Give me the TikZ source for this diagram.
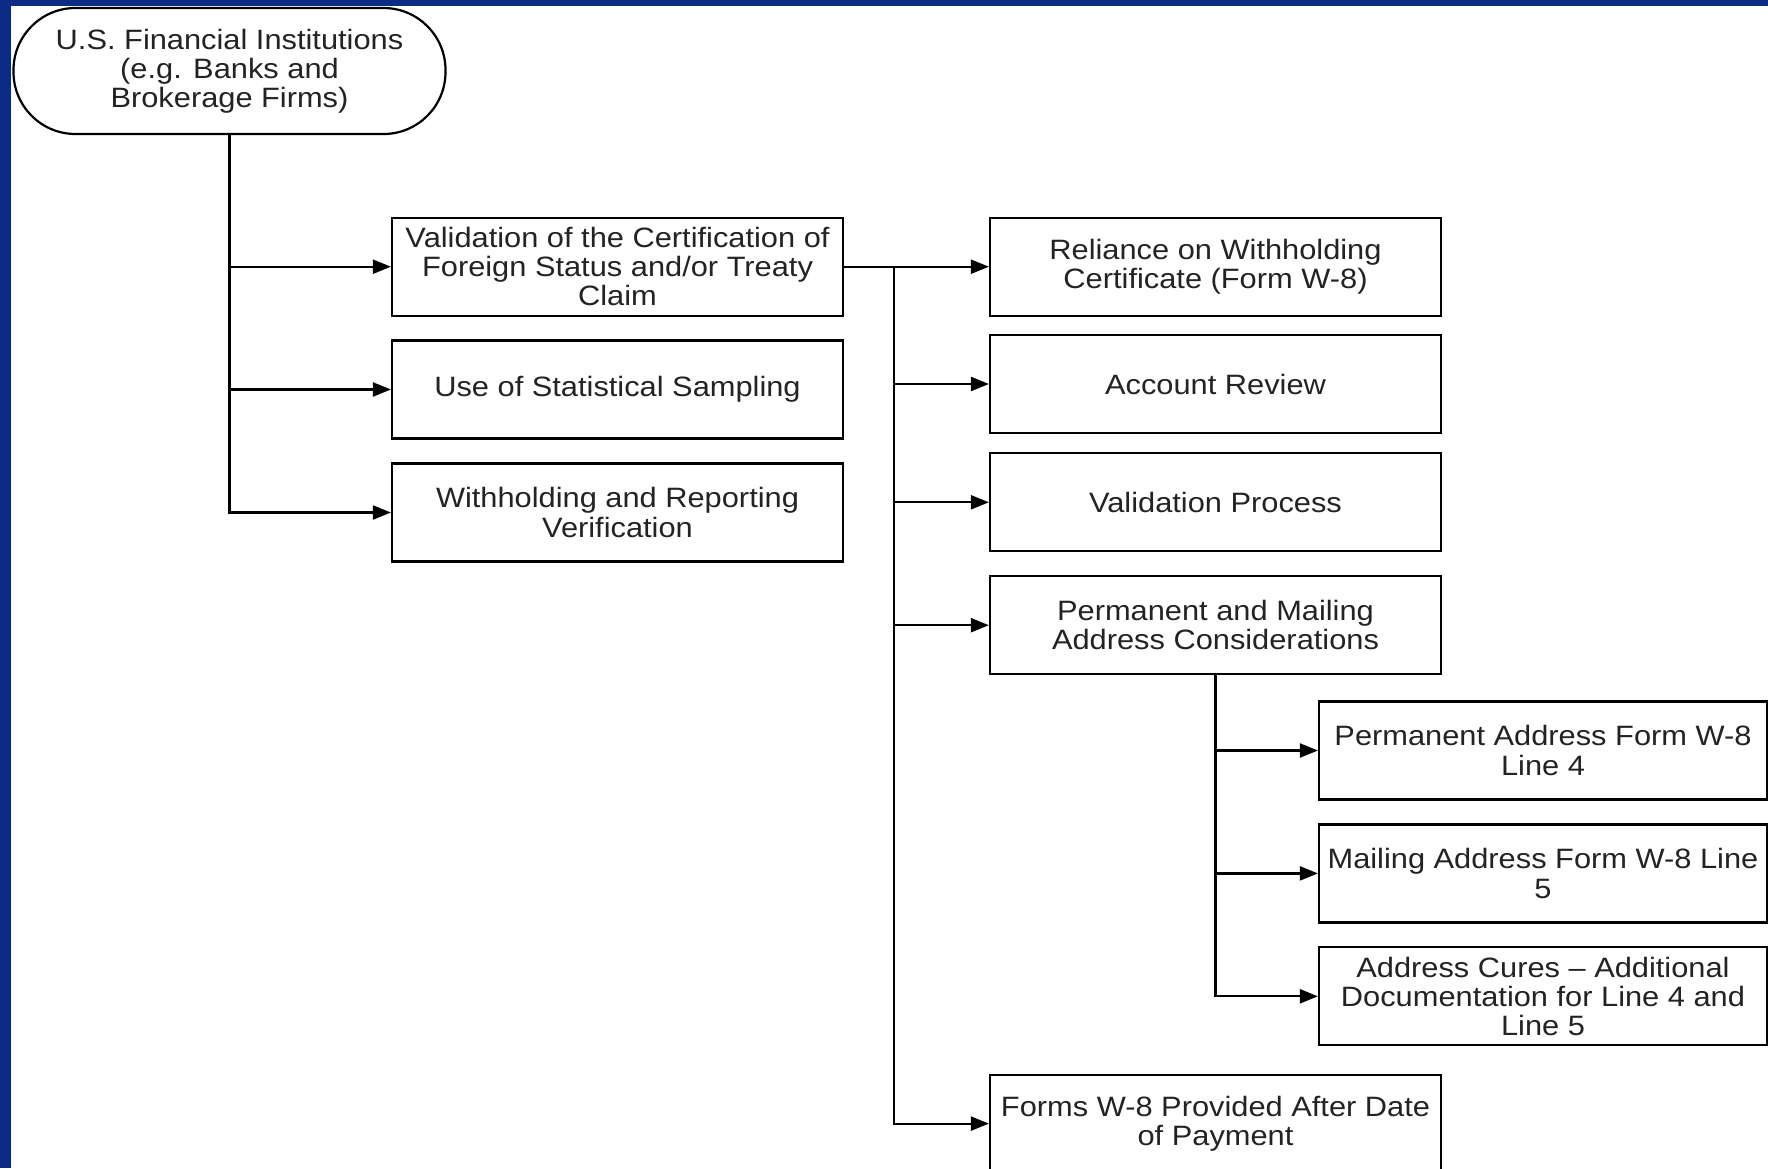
\documentclass[tikz,border=0pt]{standalone}
\usepackage{fontspec}
\setmainfont{Liberation Sans}[FakeStretch=1.1]
\usetikzlibrary{arrows.meta}
\definecolor{frameblue}{RGB}{11,43,133}
\definecolor{txt}{RGB}{35,35,35}
\begin{document}
\begin{tikzpicture}[x=0.5pt,y=-0.5pt,
  every node/.style={font=\fontsize{14pt}{14.6pt}\selectfont, text=txt, align=center, inner sep=0pt},
  box/.style={draw=black, line width=1.1pt, minimum width=225.5pt, minimum height=49pt},
  narrowbox/.style={box, minimum width=224pt},
  term/.style={draw=black, line width=1.1pt, rounded corners=31pt, minimum width=216pt, minimum height=63pt},
  conn/.style={draw=black, line width=1.1pt, -{Triangle[length=9pt,width=7pt]}},
  plain/.style={draw=black, line width=1.1pt}]
\useasboundingbox (0,0) rectangle (1768,1168);
\fill[frameblue] (0,0) rectangle (1768,1168);
\fill[white] (11,6) rectangle (1768,1168);

\node[term] (fi) at (229.5,71) {U.S. Financial Institutions\\(e.g. Banks and\\Brokerage Firms)};

\node[box] (v1) at (617.5,266.7) {Validation of the Certification of\\Foreign Status and/or Treaty\\Claim};
\node[box] (v2) at (617.5,389.5) {Use of Statistical Sampling};
\node[box] (v3) at (617.5,512.5) {Withholding and Reporting\\Verification};

\node[box] (r1) at (1215.5,266.7) {Reliance on Withholding\\Certificate (Form W-8)};
\node[box] (r2) at (1215.5,384) {Account Review};
\node[box] (r3) at (1215.5,502.3) {Validation Process};
\node[box] (r4) at (1215.5,625.2) {Permanent and Mailing\\Address Considerations};
\node[box] (r5) at (1215.5,1123.6) {Forms W-8 Provided After Date\\of Payment};

\node[narrowbox] (a1) at (1543,750.5) {Permanent Address Form W-8\\Line 4};
\node[narrowbox] (a2) at (1543,873.4) {Mailing Address Form W-8 Line\\5};
\node[narrowbox] (a3) at (1543,996.3) {Address Cures -- Additional\\Documentation for Line 4 and\\Line 5};

% trunk from the institutions
\draw[conn] (fi.south) |- (v1.west);
\draw[conn] (fi.south) |- (v2.west);
\draw[conn] (fi.south) |- (v3.west);

% from validation of certification
\coordinate (J) at (894,266.7);
\draw[conn] (v1.east) -- (r1.west);
\draw[plain] (J) -- (J |- r5.west);
\draw[conn] (J) |- (r2.west);
\draw[conn] (J) |- (r3.west);
\draw[conn] (J) |- (r4.west);
\draw[conn] (J) |- (r5.west);

% address considerations
\draw[conn] (r4.south) |- (a1.west);
\draw[conn] (r4.south) |- (a2.west);
\draw[conn] (r4.south) |- (a3.west);
\end{tikzpicture}
\end{document}
